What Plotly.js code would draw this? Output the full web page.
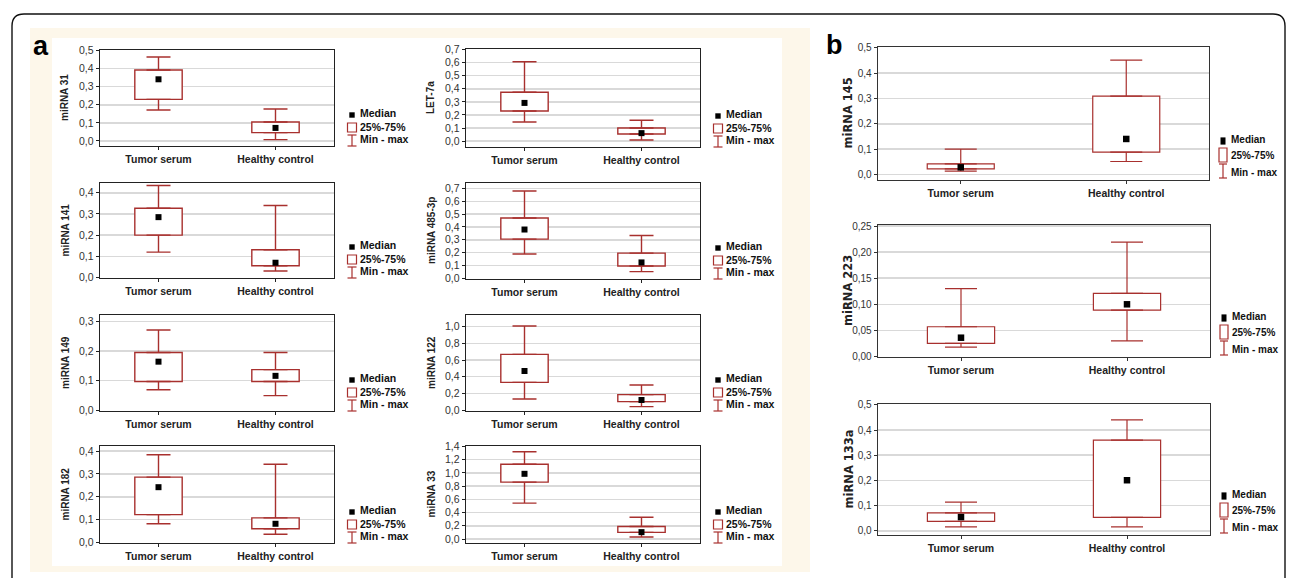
<!DOCTYPE html>
<html><head><meta charset="utf-8">
<script src="https://cdn.plot.ly/plotly-3.0.1.min.js"></script>
<style>html,body{margin:0;padding:0;background:#fff;} #chart{width:1292px;height:578px;}</style>
</head><body><div id="chart"></div>
<script>
// ---------- DATA ----------
const categories = ['Tumor serum', 'Healthy control'];
const panelLabels = ['miRNA 31', 'LET-7a', 'miRNA 141', 'miRNA 485-3p', 'miRNA 149', 'miRNA 122',
                     'miRNA 182', 'miRNA 33', 'miRNA 145', 'miRNA 223', 'miRNA 133a'];
const minValues    = [[0.171,0.007],[0.146,0.008],[0.120,0.031],[0.189,0.052],[0.069,0.049],[0.132,0.040],[0.082,0.036],[0.542,0.030],[0.013,0.051],[0.018,0.030],[0.016,0.016]];
const q1Values     = [[0.230,0.046],[0.230,0.054],[0.200,0.056],[0.305,0.096],[0.097,0.097],[0.332,0.100],[0.122,0.060],[0.860,0.100],[0.022,0.088],[0.025,0.089],[0.038,0.054]];
const medianValues = [[0.341,0.072],[0.292,0.061],[0.285,0.070],[0.380,0.124],[0.164,0.116],[0.468,0.120],[0.242,0.082],[0.985,0.104],[0.028,0.140],[0.036,0.100],[0.055,0.201]];
const q3Values     = [[0.392,0.105],[0.373,0.100],[0.327,0.131],[0.470,0.196],[0.195,0.137],[0.668,0.184],[0.286,0.108],[1.130,0.189],[0.042,0.309],[0.057,0.121],[0.072,0.360]];
const maxValues    = [[0.464,0.177],[0.606,0.159],[0.434,0.340],[0.680,0.333],[0.271,0.195],[1.008,0.300],[0.384,0.342],[1.318,0.328],[0.100,0.451],[0.130,0.219],[0.114,0.440]];
const yTickStep    = [0.1, 0.1, 0.1, 0.1, 0.1, 0.2, 0.1, 0.2, 0.1, 0.05, 0.1];
const yTickFormat  = ['.1f','.1f','.1f','.1f','.1f','.1f','.1f','.1f','.1f','.2f','.1f'];
const legendLabels = ['Median', '25%-75%', 'Min - max'];
const panelLetters = ['a', 'b'];

// ---------- LAYOUT CONFIG (pixels) ----------
const W = 1292, H = 578;
const frames = [
  {l:100,r:334,t:50,b:146,g:'a'}, {l:466,r:700,t:49,b:147,g:'a'},
  {l:100,r:334,t:183,b:278,g:'a'}, {l:466,r:700,t:183,b:279,g:'a'},
  {l:100,r:334,t:315,b:411,g:'a'}, {l:466,r:700,t:315,b:411,g:'a'},
  {l:100,r:334,t:446,b:543,g:'a'}, {l:466,r:700,t:446,b:543,g:'a'},
  {l:878,r:1209,t:47,b:180,g:'b'}, {l:878,r:1210,t:225,b:357,g:'b'}, {l:878,r:1210,t:404,b:535,g:'b'}
];
const yRanges = [[-0.028,0.503],[-0.045,0.704],[-0.002,0.446],[-0.005,0.742],[-0.003,0.322],[-0.012,1.14],
                 [-0.002,0.422],[-0.06,1.405],[-0.022,0.503],[-0.001,0.252],[-0.016,0.503]];
const RED = '#a8302e';
const styles = {
  a: {font:'Liberation Sans, Arial, sans-serif', tick:10.5, catSize:10.5, catWeight:'bold', title:10, titleFont:'Liberation Sans, Arial',
      leg:10.5, lw:1.4, cap:12, medW:2.7, medH:2.7, titleOff:35, iconX:18, textX:24, ly:[-33,-19,-7], rectH:[-23,-14], rectW:9,
      whisk:[-11,0], capW:4.5, tickColor:'#333', frame:'#222'},
  b: {font:'Liberation Sans, Arial, sans-serif', tick:10, catSize:10.5, catWeight:'bold', title:11.5, titleFont:'DejaVu Sans, Liberation Sans',
      leg:10, lw:1.2, cap:16, medW:2.5, medH:3.6, titleOff:30, iconX:14, textX:20, ly:[-41,-25,-8], rectH:[-32,-18], rectW:8,
      whisk:[-16,-2], capW:4, tickColor:'#333', frame:'#333'}
};
const fx = px => px / W;
const fy = py => 1 - py / H;

const data = [];
const layout = {
  width: W, height: H, margin: {l:0, r:0, t:0, b:0},
  paper_bgcolor: '#ffffff', plot_bgcolor: '#ffffff',
  separators: ', ', showlegend: false, hovermode: false,
  shapes: [], annotations: []
};

// background frame
layout.shapes.push({type:'path', xref:'paper', yref:'paper', layer:'below',
  path: `M ${fx(12)},${fy(600)} L ${fx(12)},${fy(26)} Q ${fx(12)},${fy(14)} ${fx(24)},${fy(14)} L ${fx(1273)},${fy(14)} Q ${fx(1285)},${fy(14)} ${fx(1285)},${fy(26)} L ${fx(1285)},${fy(600)}`,
  line:{color:'#111', width:1.4}});
layout.shapes.push({type:'rect', xref:'paper', yref:'paper', layer:'below',
  x0:fx(30), x1:fx(810), y0:fy(572), y1:fy(28), fillcolor:'#fdf7ea', line:{width:0}});
layout.shapes.push({type:'rect', xref:'paper', yref:'paper', layer:'below',
  x0:fx(52), x1:fx(782), y0:fy(566), y1:fy(38), fillcolor:'#ffffff', line:{width:0}});

// panel letters
layout.annotations.push({text:'<b>'+panelLetters[0]+'</b>', xref:'paper', yref:'paper', x:fx(31), y:fy(46),
  xanchor:'left', yanchor:'middle', showarrow:false, font:{family:'Liberation Sans, Arial', size:27, color:'#000'}});
layout.annotations.push({text:'<b>'+panelLetters[1]+'</b>', xref:'paper', yref:'paper', x:fx(824), y:fy(45),
  xanchor:'left', yanchor:'middle', showarrow:false, font:{family:'Liberation Sans, Arial', size:27, color:'#000'}});

frames.forEach((f, i) => {
  const s = styles[f.g];
  const n = i === 0 ? '' : String(i + 1);
  const xa = 'x' + n, ya = 'y' + n;

  const q1 = q1Values[i], q3 = q3Values[i], mn = minValues[i], mx = maxValues[i], md = medianValues[i];

  // box 25%-75%
  data.push({type:'bar', x:categories, y:q3.map((v,k)=>v - q1[k]), base:q1, width:0.405,
    xaxis:xa, yaxis:ya, marker:{color:'#ffffff', line:{color:RED, width:s.lw}}, hoverinfo:'skip'});
  // whiskers min - max
  data.push({type:'scatter', mode:'markers', xaxis:xa, yaxis:ya, hoverinfo:'skip',
    x:[categories[0], categories[1], categories[0], categories[1]],
    y:[q3[0], q3[1], q1[0], q1[1]],
    marker:{size:1, color:'rgba(0,0,0,0)'},
    error_y:{type:'data', symmetric:false,
      array:[mx[0]-q3[0], mx[1]-q3[1], 0, 0],
      arrayminus:[0, 0, q1[0]-mn[0], q1[1]-mn[1]],
      color:RED, thickness:s.lw, width:s.cap}});
  // median
  data.push({type:'scatter', mode:'markers', xaxis:xa, yaxis:ya, hoverinfo:'skip',
    x:categories, y:md, marker:{symbol:'square', size:f.g === 'a' ? 6 : 6.5, color:'#000'}});

  layout['xaxis' + n] = {domain:[fx(f.l), fx(f.r)], anchor:ya, type:'category',
    categoryorder:'array', categoryarray:categories, range:[-0.5, 1.5],
    showline:true, mirror:true, linecolor:s.frame, linewidth:1.4, showgrid:false, zeroline:false,
    ticks:'outside', ticklen:3, tickcolor:s.frame,
    tickfont:{family:s.font, size:s.catSize, color:'#222', weight:s.catWeight}, fixedrange:true};
  layout['yaxis' + n] = {domain:[fy(f.b), fy(f.t)], anchor:xa, range:yRanges[i],
    tick0:0, dtick:yTickStep[i], tickformat:yTickFormat[i],
    showline:true, mirror:true, linecolor:s.frame, linewidth:1.4,
    showgrid:true, gridcolor:'#d9d9d9', gridwidth:1.5, zeroline:false,
    ticks:'outside', ticklen:3, tickcolor:s.frame,
    tickfont:{family:s.font, size:s.tick, color:s.tickColor}, fixedrange:true};

  // y title
  layout.annotations.push({text:panelLabels[i], xref:'paper', yref:'paper', x:fx(f.l - s.titleOff), y:fy((f.t + f.b) / 2),
    xanchor:'center', yanchor:'middle', textangle:-90, showarrow:false,
    font:{family:s.titleFont, size:s.title, color:'#222', weight:'bold'}});

  // legend
  const cx = f.r + s.iconX;
  legendLabels.forEach((lab, k) => {
    layout.annotations.push({text:lab, xref:'paper', yref:'paper', x:fx(f.r + s.textX), y:fy(f.b + s.ly[k]),
      xanchor:'left', yanchor:'middle', showarrow:false,
      font:{family:s.font, size:s.leg, color:'#111', weight:'bold'}});
  });
  layout.shapes.push({type:'rect', xref:'paper', yref:'paper', x0:fx(cx - s.medW), x1:fx(cx + s.medW),
    y0:fy(f.b + s.ly[0] + 2 + s.medH), y1:fy(f.b + s.ly[0] + 2 - s.medH), fillcolor:'#000', line:{width:0}});
  layout.shapes.push({type:'rect', xref:'paper', yref:'paper', x0:fx(cx - s.rectW/2), x1:fx(cx + s.rectW/2),
    y0:fy(f.b + s.rectH[1]), y1:fy(f.b + s.rectH[0]), fillcolor:'#fff', line:{color:RED, width:1.2}});
  const wt = f.b + s.whisk[0], wb = f.b + s.whisk[1];
  [[cx, wt, cx, wb], [cx - s.capW, wt, cx + s.capW, wt], [cx - s.capW, wb, cx + s.capW, wb]].forEach(p => {
    layout.shapes.push({type:'line', xref:'paper', yref:'paper', x0:fx(p[0]), y0:fy(p[1]), x1:fx(p[2]), y1:fy(p[3]),
      line:{color:RED, width:1.2}});
  });
});

Plotly.newPlot('chart', data, layout, {staticPlot:true, displayModeBar:false});
</script></body></html>
